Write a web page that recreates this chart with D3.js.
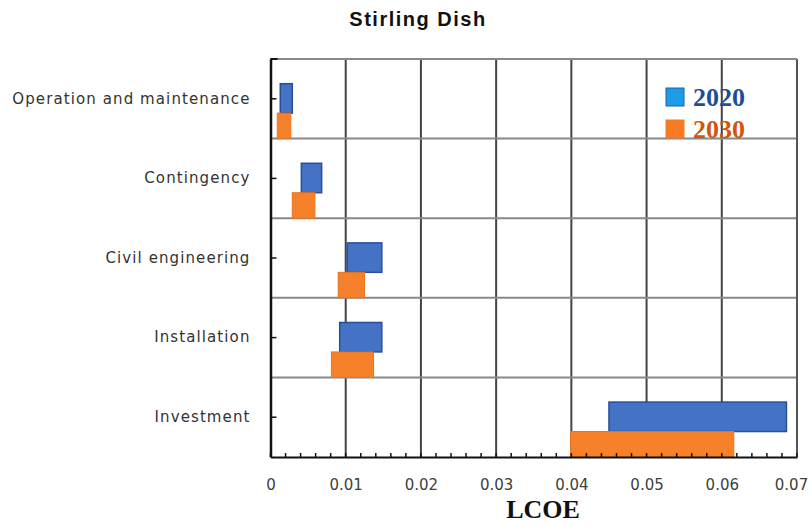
<!DOCTYPE html>
<html><head><meta charset="utf-8">
<script src="https://cdn.jsdelivr.net/npm/d3@7/dist/d3.min.js"></script>
<style>body{margin:0;background:#fff;}svg{display:block;}</style>
</head><body>
<svg id="c" width="812" height="526"></svg>
<script>
const categories = ["Operation and maintenance","Contingency","Civil engineering","Installation","Investment"];
const start2020 = [0.0013,0.0041,0.0102,0.0092,0.0450];
const end2020   = [0.0029,0.0068,0.0148,0.0148,0.0686];
const start2030 = [0.0009,0.0029,0.0090,0.0081,0.0399];
const end2030   = [0.0027,0.0059,0.0125,0.0137,0.0616];
const xTicks = [0,0.01,0.02,0.03,0.04,0.05,0.06,0.07];
const xTickLabels = ["0","0.01","0.02","0.03","0.04","0.05","0.06","0.07"];
const seriesNames = ["2020","2030"];

const svg = d3.select("#c");
const L=270.5, R=797, T=59, B=457;
const x = d3.scaleLinear().domain([0,0.07]).range([L,R]);
const y = d3.scaleBand().domain(categories).range([T,B]).padding(0);
const bw = y.bandwidth();

// vertical gridlines
svg.append("g").selectAll("line").data(xTicks.slice(1)).join("line")
  .attr("x1",d=>x(d)).attr("x2",d=>x(d)).attr("y1",T).attr("y2",B)
  .attr("stroke","#444").attr("stroke-width",2);
// horizontal gridlines (band boundaries)
const bounds = categories.map(c=>y(c));
svg.append("g").selectAll("line").data(bounds).join("line")
  .attr("x1",L).attr("x2",R).attr("y1",d=>d).attr("y2",d=>d)
  .attr("stroke","#888").attr("stroke-width",2);

// bars
const d20 = categories.map((c,i)=>({c,s:start2020[i],e:end2020[i]}));
const d30 = categories.map((c,i)=>({c,s:start2030[i],e:end2030[i]}));
svg.append("g").selectAll("rect").data(d20).join("rect")
  .attr("x",d=>x(d.s)).attr("width",d=>x(d.e)-x(d.s))
  .attr("y",d=>y(d.c)+bw*0.31).attr("height",bw*0.37)
  .attr("fill","#4472C4").attr("stroke","#2A4F9A").attr("stroke-width",1.5);
svg.append("g").selectAll("rect").data(d30).join("rect")
  .attr("x",d=>x(d.s)).attr("width",d=>x(d.e)-x(d.s))
  .attr("y",d=>y(d.c)+bw*0.68).attr("height",bw*0.32)
  .attr("fill","#F7812A").attr("stroke","#E8741E").attr("stroke-width",1);

// right border
svg.append("line").attr("x1",R).attr("x2",R).attr("y1",T).attr("y2",B)
  .attr("stroke","#555").attr("stroke-width",2);

// bottom axis
const xa = svg.append("g").attr("transform",`translate(0,${B})`)
  .call(d3.axisBottom(x).tickValues(xTicks).tickSize(0).tickSizeOuter(0)
    .tickFormat((d,i)=>xTickLabels[i]).tickPadding(22));
xa.select(".domain").attr("stroke","#111").attr("stroke-width",2);
xa.selectAll("text").attr("font-family","DejaVu Sans").attr("font-size",15).attr("fill","#404040")
  .attr("dx",(d,i)=> i===xTicks.length-1 ? -6 : 0);
// minor ticks (inside)
const minor = d3.range(0,0.0701,0.002);
svg.append("g").selectAll("line").data(minor).join("line")
  .attr("x1",d=>x(d)).attr("x2",d=>x(d)).attr("y1",B).attr("y2",B-4)
  .attr("stroke","#111").attr("stroke-width",1.5);

// top border
svg.append("line").attr("x1",L).attr("x2",R).attr("y1",T).attr("y2",T)
  .attr("stroke","#888").attr("stroke-width",2);
svg.append("line").attr("x1",L).attr("x2",L+7).attr("y1",T).attr("y2",T)
  .attr("stroke","#111").attr("stroke-width",2);

// left axis
const ya = svg.append("g").attr("transform",`translate(${L},0)`)
  .call(d3.axisLeft(y).tickSize(-6).tickSizeOuter(0).tickPadding(20));
ya.select(".domain").attr("stroke","#111").attr("stroke-width",2.5);
ya.selectAll(".tick line").attr("stroke","#111").attr("stroke-width",1.5);
ya.selectAll("text").attr("font-family","DejaVu Sans").attr("font-size",15)
  .attr("letter-spacing","1.1px").attr("fill","#333");

// title
svg.append("text").attr("x",418).attr("y",26).attr("text-anchor","middle")
  .attr("font-family","Liberation Sans").attr("font-weight","bold").attr("font-size",20)
  .attr("letter-spacing","1.5px").attr("fill","#111").text("Stirling Dish");
// x title
svg.append("text").attr("x",543).attr("y",518).attr("text-anchor","middle")
  .attr("font-family","Liberation Serif").attr("font-weight","bold").attr("font-size",26)
  .attr("fill","#111").text("LCOE");

// legend
const legFill = ["#1E9BE8","#F77B25"], legStroke=["#1565A8","#F77B25"], legText=["#1F4E99","#D2560F"];
const lg = svg.append("g").selectAll("g").data(seriesNames).join("g")
  .attr("transform",(d,i)=>`translate(666,${88+i*32})`);
lg.append("rect").attr("width",18).attr("height",18)
  .attr("fill",(d,i)=>legFill[i]).attr("stroke",(d,i)=>legStroke[i]).attr("stroke-width",1);
lg.append("text").attr("x",27).attr("y",18)
  .attr("font-family","Liberation Serif").attr("font-weight","bold").attr("font-size",26)
  .attr("fill",(d,i)=>legText[i]).text(d=>d);
</script>
</body></html>
